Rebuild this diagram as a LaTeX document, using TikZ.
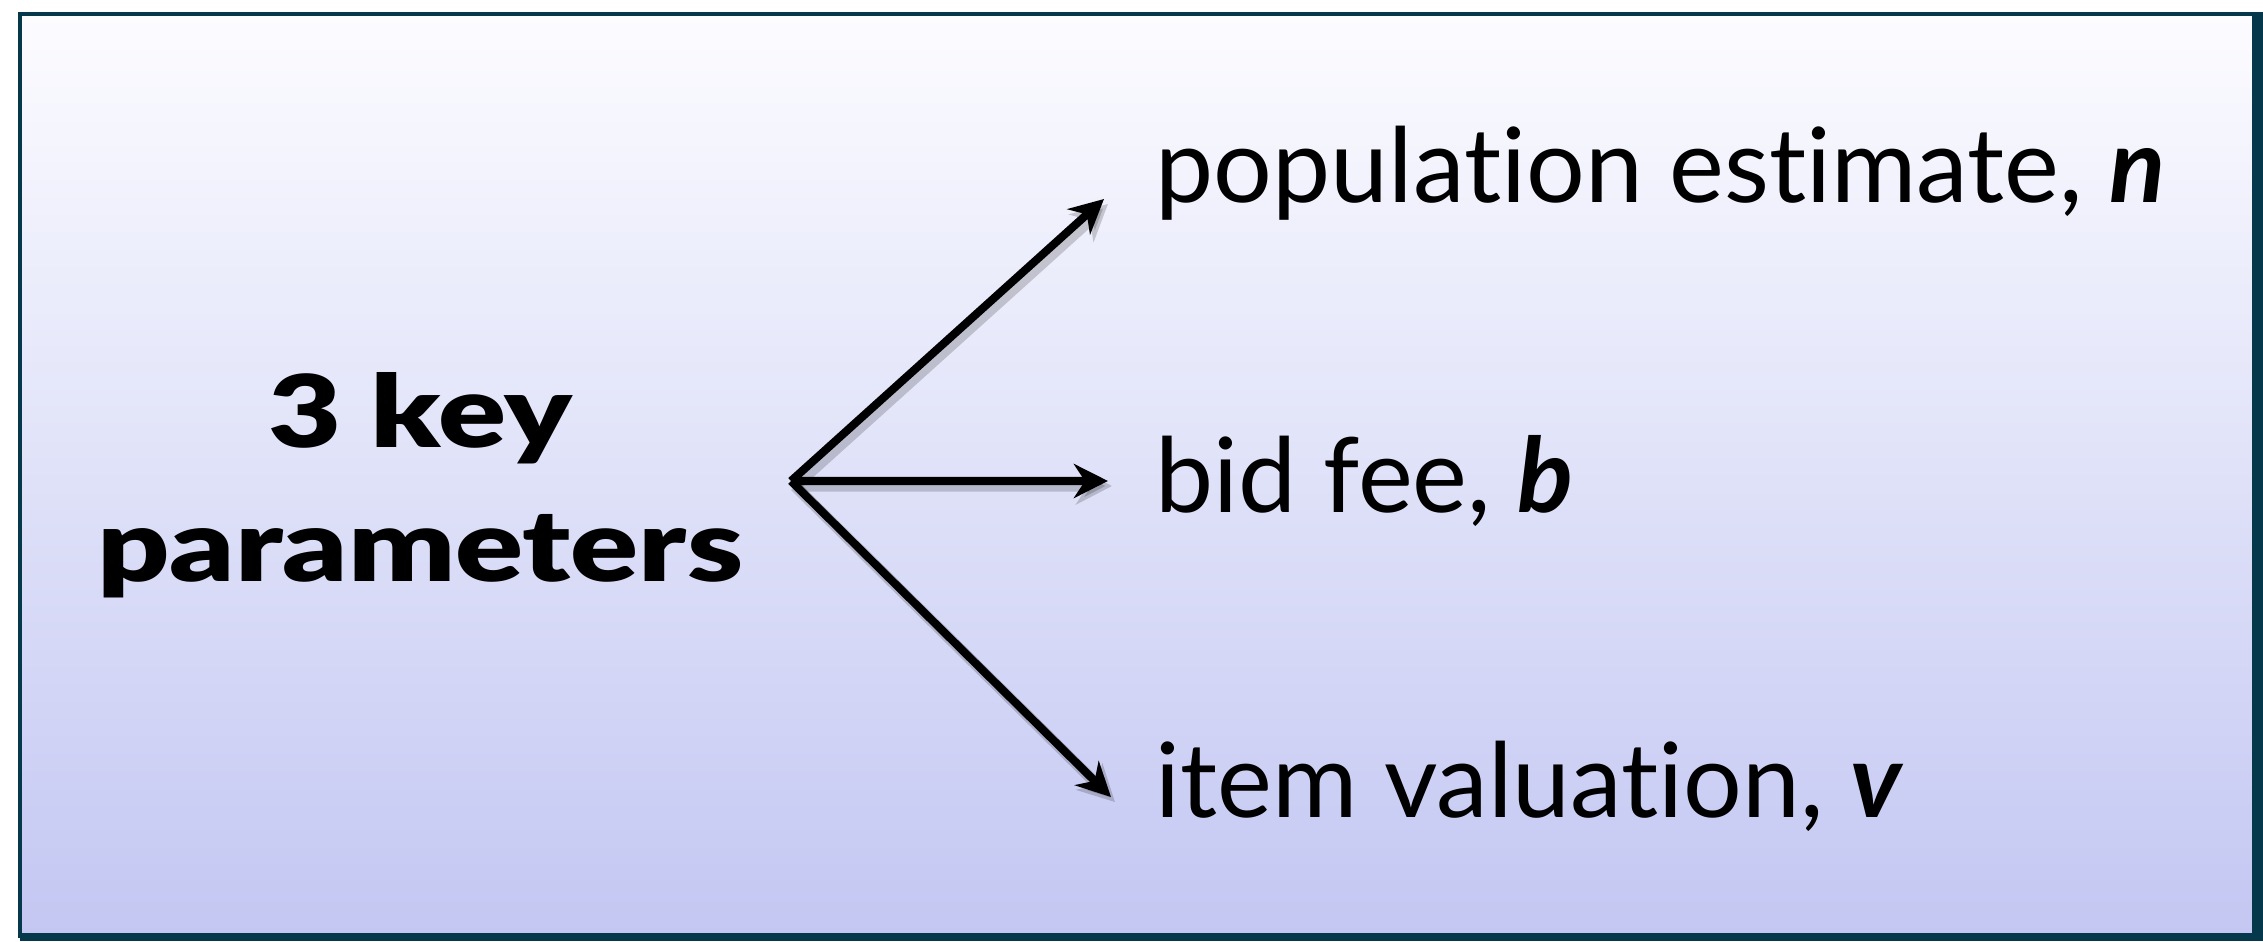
\documentclass[tikz,border=0pt]{standalone}
\usepackage{fontspec}
\setmainfont{Lato}[Ligatures=NoCommon]
\newfontfamily\heavyfont{Lato Black}[Ligatures=NoCommon]
\usetikzlibrary{arrows.meta}
\definecolor{framecol}{RGB}{6,56,76}
\definecolor{topcol}{RGB}{252,252,255}
\definecolor{botcol}{RGB}{195,199,242}

\begin{document}
\begin{tikzpicture}[x=0.01cm,y=-0.01cm]
	\tikzstyle{every node}+=[inner sep=0pt]
	\tikzstyle{branch}=[line width=2.3pt,-{Stealth[length=0.34cm,width=0.34cm]}]
	\tikzstyle{branchshadow}=[line width=3.2pt,black,opacity=0.18,-{Stealth[length=0.36cm,width=0.37cm]}]
	\tikzstyle{item}=[anchor=base west,font=\fontsize{29.5}{34}\selectfont]
	\useasboundingbox (0,0) rectangle (2263,941);
	% background and frame
	\fill [white] (0,0) rectangle (2263,941);
	\shade [top color=topcol,bottom color=botcol] (20,14) rectangle (2256,936);
	\draw [framecol,line width=1.3pt] (20,14) rectangle (2256,936);
	\draw [framecol,line width=3.6pt] (2258,12) -- (2258,941);
	\draw [framecol,line width=2.4pt] (20,937) -- (2263,937);
	% labels
	\node [font=\fontsize{28.5}{38}\selectfont\heavyfont,align=center,xscale=1.26,transform shape] (params) at (420,485) {3 key\\parameters};
	\node [item] (popn) at (1155,202) {population estimate, \textbf{\textit{n}}};
	\node [item] (fee) at (1155,512) {bid fee, \textbf{\textit{b}}};
	\node [item] (valn) at (1155,817) {item valuation, \textbf{\textit{v}}};
	\coordinate (fork) at (791,481);
	\coordinate (tipN) at ([xshift=-0.51cm,yshift=0.03cm]popn.base west);
	\coordinate (tipB) at ([xshift=-0.47cm,yshift=0.31cm]fee.base west);
	\coordinate (tipV) at ([xshift=-0.44cm,yshift=0.20cm]valn.base west);
	% shadows
	\draw [branchshadow] ([shift={(4,5)}]fork) -- ([shift={(4,5)}]tipN);
	\draw [branchshadow] ([shift={(4,5)}]fork) -- ([shift={(4,5)}]tipB);
	\draw [branchshadow] ([shift={(4,5)}]fork) -- ([shift={(4,5)}]tipV);
	% arrows
	\draw [branch] (fork) -- (tipN);
	\draw [branch] (fork) -- (tipB);
	\draw [branch] (fork) -- (tipV);
\end{tikzpicture}
\end{document}
